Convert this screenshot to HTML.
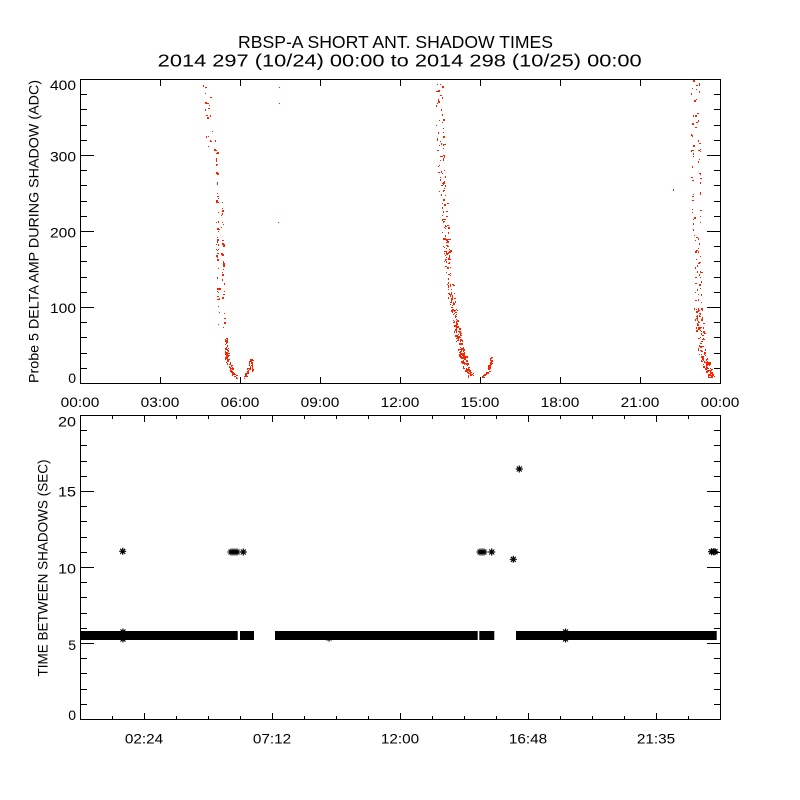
<!DOCTYPE html>
<html><head><meta charset="utf-8"><style>
html,body{margin:0;padding:0;background:#fff;}
svg{display:block;}
text{font-family:"Liberation Sans",sans-serif;fill:#000;}
</style></head><body>
<svg id="s" xmlns="http://www.w3.org/2000/svg" width="800" height="800" viewBox="0 0 800 800">
<rect width="800" height="800" fill="#fff"/>
<text x="395.5" y="48" font-size="17.5" text-anchor="middle" textLength="315" lengthAdjust="spacingAndGlyphs">RBSP-A SHORT ANT. SHADOW TIMES</text>
<text x="399.7" y="66.5" font-size="17.5" text-anchor="middle" textLength="484" lengthAdjust="spacingAndGlyphs">2014 297 (10/24) 00:00 to 2014 298 (10/25) 00:00</text>

<rect x="80.5" y="79.5" width="640" height="304" fill="none" stroke="#000" stroke-width="1"/>
<rect x="80.5" y="415.5" width="640" height="304" fill="none" stroke="#000" stroke-width="1"/>

<g font-size="14" text-anchor="middle">
<text x="80" y="407" textLength="38.7" lengthAdjust="spacingAndGlyphs">00:00</text>
<text x="160" y="407" textLength="38.7" lengthAdjust="spacingAndGlyphs">03:00</text>
<text x="240" y="407" textLength="38.7" lengthAdjust="spacingAndGlyphs">06:00</text>
<text x="320" y="407" textLength="38.7" lengthAdjust="spacingAndGlyphs">09:00</text>
<text x="400" y="407" textLength="38.7" lengthAdjust="spacingAndGlyphs">12:00</text>
<text x="480" y="407" textLength="38.7" lengthAdjust="spacingAndGlyphs">15:00</text>
<text x="560" y="407" textLength="38.7" lengthAdjust="spacingAndGlyphs">18:00</text>
<text x="640" y="407" textLength="38.7" lengthAdjust="spacingAndGlyphs">21:00</text>
<text x="720" y="407" textLength="38.7" lengthAdjust="spacingAndGlyphs">00:00</text>

<text x="144" y="743.3" textLength="38.3" lengthAdjust="spacingAndGlyphs">02:24</text>
<text x="272" y="743.3" textLength="38.3" lengthAdjust="spacingAndGlyphs">07:12</text>
<text x="400" y="743.3" textLength="38.3" lengthAdjust="spacingAndGlyphs">12:00</text>
<text x="528" y="743.3" textLength="38.3" lengthAdjust="spacingAndGlyphs">16:48</text>
<text x="656" y="743.3" textLength="38.3" lengthAdjust="spacingAndGlyphs">21:35</text>
</g>

<g font-size="14" text-anchor="end">
<text x="76" y="90" textLength="26" lengthAdjust="spacingAndGlyphs">400</text>
<text x="76" y="161.5" textLength="26" lengthAdjust="spacingAndGlyphs">300</text>
<text x="76" y="237.5" textLength="26" lengthAdjust="spacingAndGlyphs">200</text>
<text x="76" y="313" textLength="26" lengthAdjust="spacingAndGlyphs">100</text>
<text x="76" y="383">0</text>

<text x="76" y="426.7" textLength="18" lengthAdjust="spacingAndGlyphs">20</text>
<text x="76" y="496.7" textLength="18" lengthAdjust="spacingAndGlyphs">15</text>
<text x="76" y="573.3" textLength="18" lengthAdjust="spacingAndGlyphs">10</text>
<text x="76" y="650">5</text>
<text x="76" y="720">0</text>
</g>

<text transform="translate(38.5,231.5) rotate(-90)" font-size="14" text-anchor="middle" textLength="303" lengthAdjust="spacingAndGlyphs">Probe 5 DELTA AMP DURING SHADOW (ADC)</text>
<text transform="translate(47.7,568) rotate(-90)" font-size="14" text-anchor="middle" textLength="217" lengthAdjust="spacingAndGlyphs">TIME BETWEEN SHADOWS (SEC)</text>

<path id="ticks" d="" stroke="#000" stroke-width="1" fill="none"/>
<path id="red" d="" fill="#ff2000"/>

<g fill="#000">
<rect x="80" y="631" width="157.7" height="9"/>
<rect x="240" y="631" width="14" height="9"/>
<rect x="275" y="631" width="202.7" height="9"/>
<rect x="479.3" y="631" width="15" height="9"/>
<rect x="516" y="631" width="200.7" height="9"/>
</g>
<path id="stars" d="" stroke="#000" stroke-width="1.2" fill="none"/>
</svg>
<script>
(function(){
  var d='';
  function yt(bot){
    for(var k=0;k<=20;k++){
      var y=Math.round(bot-k*15.2)+0.5;
      var L=(k%5===0)?14:7;
      d+='M80,'+y+'h'+L+'M721,'+y+'h'+(-L);
    }
  }
  yt(383); yt(719);
  for(var i=1;i<=7;i++){
    var x=80+80*i+0.5;
    d+='M'+x+',383v-6M'+x+',80v6';
  }
  for(var k=1;k<=19;k++){
    var x2=80+32*k+0.5;
    var L2=((k-2)%4===0)?6:3;
    d+='M'+x2+',719v'+(-L2)+'M'+x2+',416v'+L2;
  }
  document.getElementById('ticks').setAttribute('d',d);

  var a=987654321;
  function R(){a|=0;a=a+0x6D2B79F5|0;var t=Math.imul(a^a>>>15,1|a);t=t+Math.imul(t^t>>>7,61|t)^t;return((t^t>>>14)>>>0)/4294967296;}

  var rd='';
  function dot(x,y){
    x=Math.round(x); y=Math.round(y);
    var w=R()<0.3?2:1, h=R()<0.4?2:1;
    rd+='M'+x+','+y+'h'+w+'v'+h+'h'+(-w)+'z';
  }
  function seg(n,p){
    var lens=[],tot=0;
    for(var i=1;i<p.length;i++){
      var dy=p[i][0]-p[i-1][0], dx=p[i][1]-p[i-1][1];
      var l=Math.sqrt(dx*dx+dy*dy); lens.push(l); tot+=l;
    }
    for(var j=0;j<n;j++){
      var t=R()*tot, s=0;
      while(s<lens.length-1 && t>lens[s]){t-=lens[s];s++;}
      var f=lens[s]?t/lens[s]:0; if(f>1)f=1;
      var y=p[s][0]+(p[s+1][0]-p[s][0])*f;
      var xc=p[s][1]+(p[s+1][1]-p[s][1])*f;
      var hw=p[s][2]+(p[s+1][2]-p[s][2])*f;
      dot(xc+(R()*2-1)*hw, y+(R()-0.5)*1.2);
    }
  }
  // cluster 1
  seg(22,[[83,206,4],[150,212,5]]);
  seg(14,[[150,216.5,0.8],[197,217,0.8]]);
  seg(40,[[197,217,1],[330,218,1.5]]);
  seg(35,[[200,222,1],[330,223.5,1.5]]);
  seg(40,[[338,226.5,1.5],[358,226.5,1.5]]);
  seg(50,[[352,226,1.5],[362,228,2],[372,232,2],[378,236,1.5]]);
  seg(50,[[378,243.5,1],[372,247,1.5],[365,249.5,1.5],[358,251,1.5]]);
  seg(8,[[360,252,0.3],[373,252,0.3]]);
  dot(279,87);dot(279,103);dot(278,222);
  // cluster 2
  seg(50,[[80,438,4],[113,439,4],[180,442,4]]);
  seg(55,[[180,442,3.5],[247,446.5,3.5]]);
  seg(60,[[247,446.5,3.5],[297,451.5,3.5]]);
  seg(60,[[297,451.5,3.5],[330,457,3]]);
  seg(65,[[330,457,3],[353,461.5,3]]);
  seg(75,[[353,461.5,3],[367,466,3],[377,471,4]]);
  seg(50,[[377,482,1.5],[372,487,1.5],[365,489.5,1],[357,491,1]]);
  // cluster 3
  seg(22,[[80,694,5],[147,695,5]]);
  seg(16,[[147,691.5,1],[230,693,1]]);
  seg(16,[[147,699,1],[230,700,1]]);
  seg(45,[[230,697,4],[313,698,4]]);
  seg(60,[[313,698,4],[353,702,4]]);
  seg(70,[[353,702,4],[365,706,4],[378,712,3]]);
  dot(673,189);
  document.getElementById('red').setAttribute('d',rd);

  var sd='';
  function star(cx,cy){
    sd+='M'+(cx-3.5)+','+cy+'h7M'+cx+','+(cy-3.5)+'v7M'+(cx-2.5)+','+(cy-2.5)+'l5,5M'+(cx-2.5)+','+(cy+2.5)+'l5,-5';
  }
  star(122.7,551.3);
  star(231,552);star(233,552);star(235,552);star(237,552);star(243.3,552);
  star(480,552);star(482,552);star(484,552);star(491.7,552);
  star(519.3,469);star(513.3,559.3);
  star(711.5,551.7);star(713.5,551.7);star(715,551.7);
  star(565.5,632);star(565.5,639);
  star(329,638);star(123,632);star(123,639);
  document.getElementById('stars').setAttribute('d',sd);
})();
</script>
</body></html>
